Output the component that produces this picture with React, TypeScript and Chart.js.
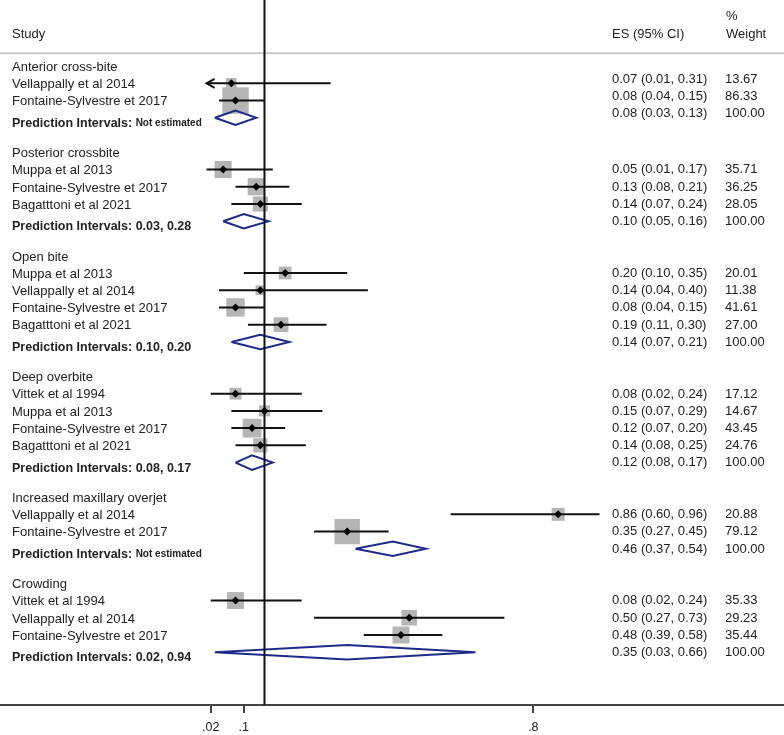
import React, { useEffect, useRef } from "react";
import { Chart, registerables } from "chart.js";

Chart.register(...registerables);

// ---------- data ----------
const groupNames = [
  "Anterior cross-bite",
  "Posterior crossbite",
  "Open bite",
  "Deep overbite",
  "Increased maxillary overjet",
  "Crowding",
];
const groupSizes = [2, 3, 4, 4, 2, 3];

const studyNames = [
  "Vellappally et al 2014",
  "Fontaine-Sylvestre et 2017",
  "Muppa et al 2013",
  "Fontaine-Sylvestre et 2017",
  "Bagatttoni et al 2021",
  "Muppa et al 2013",
  "Vellappally et al 2014",
  "Fontaine-Sylvestre et 2017",
  "Bagatttoni et al 2021",
  "Vittek et al 1994",
  "Muppa et al 2013",
  "Fontaine-Sylvestre et 2017",
  "Bagatttoni et al 2021",
  "Vellappally et al 2014",
  "Fontaine-Sylvestre et 2017",
  "Vittek et al 1994",
  "Vellappally et al 2014",
  "Fontaine-Sylvestre et 2017",
];
const studyEs = [0.07, 0.08, 0.05, 0.13, 0.14, 0.2, 0.14, 0.08, 0.19, 0.08, 0.15, 0.12, 0.14, 0.86, 0.35, 0.08, 0.5, 0.48];
const studyLo = [0.01, 0.04, 0.01, 0.08, 0.07, 0.1, 0.04, 0.04, 0.11, 0.02, 0.07, 0.07, 0.08, 0.6, 0.27, 0.02, 0.27, 0.39];
const studyHi = [0.31, 0.15, 0.17, 0.21, 0.24, 0.35, 0.4, 0.15, 0.3, 0.24, 0.29, 0.2, 0.25, 0.96, 0.45, 0.24, 0.73, 0.58];
const studyWeight = [13.67, 86.33, 35.71, 36.25, 28.05, 20.01, 11.38, 41.61, 27.0, 17.12, 14.67, 43.45, 24.76, 20.88, 79.12, 35.33, 29.23, 35.44];
const studyArrowLeft = [true, false, false, false, false, false, false, false, false, false, false, false, false, false, false, false, false, false];

const pooledEs = [0.08, 0.1, 0.14, 0.12, 0.46, 0.35];
const pooledLo = [0.03, 0.05, 0.07, 0.08, 0.37, 0.03];
const pooledHi = [0.13, 0.16, 0.21, 0.17, 0.54, 0.66];
const pooledWeight = ["100.00", "100.00", "100.00", "100.00", "100.00", "100.00"];
const predictionIntervals = ["Not estimated", "0.03, 0.28", "0.10, 0.20", "0.08, 0.17", "Not estimated", "0.02, 0.94"];

const axisTicks = [0.02, 0.1, 0.8];
const axisTickLabels = [".02", ".1", ".8"];
const referenceLine = 0.15;

// ---------- layout ----------
const W = 784;
const H = 735;
const X_MIN = -0.4894;
const X_MAX = 1.406;
const Y_MIN = -3.832;
const Y_MAX = 37.06;
const HEADER_ROW = -0.74;
const DIAMOND_HALF = 0.42;
const BOX_SCALE = 2.85;
const FONT = '"Liberation Sans", Arial, Helvetica, sans-serif';
const TEXT_COLOR = "#222";
const NAVY = "#1c2b8a";
const COL_STUDY = 12;
const COL_ES = 612;
const COL_WEIGHT = 725;

type RowInfo = { kind: "group" | "study" | "pooled"; idx: number; group: number; row: number };

function buildRows(): RowInfo[] {
  const rows: RowInfo[] = [];
  let k = 0;
  let s = 0;
  groupNames.forEach((_, gi) => {
    rows.push({ kind: "group", idx: gi, group: gi, row: k++ });
    for (let j = 0; j < groupSizes[gi]; j++) {
      rows.push({ kind: "study", idx: s++, group: gi, row: k++ });
    }
    rows.push({ kind: "pooled", idx: gi, group: gi, row: k++ });
    k++;
  });
  return rows;
}

const fmt = (v: number) => v.toFixed(2);

export default function App() {
  const ref = useRef<HTMLCanvasElement | null>(null);

  useEffect(() => {
    if (!ref.current) return;
    const rows = buildRows();
    const studyRows = rows.filter((r) => r.kind === "study");
    const pooledRows = rows.filter((r) => r.kind === "pooled");

    const markerData = studyRows.map((r) => ({ x: studyEs[r.idx], y: r.row }));
    const boxRadius = studyRows.map((r) => (BOX_SCALE * Math.sqrt(studyWeight[r.idx])) / Math.SQRT2);
    const ciData: any[] = [];
    studyRows.forEach((r) => {
      ciData.push({ x: studyLo[r.idx], y: r.row }, { x: studyHi[r.idx], y: r.row }, { x: studyHi[r.idx], y: null });
    });
    const diamondData: any[] = [];
    pooledRows.forEach((r) => {
      const g = r.idx;
      diamondData.push(
        { x: pooledLo[g], y: r.row },
        { x: pooledEs[g], y: r.row - DIAMOND_HALF },
        { x: pooledHi[g], y: r.row },
        { x: pooledEs[g], y: r.row + DIAMOND_HALF },
        { x: pooledLo[g], y: r.row },
        { x: pooledLo[g], y: null }
      );
    });

    const textPlugin = {
      id: "forestText",
      afterDraw(chart: any) {
        const ctx = chart.ctx as CanvasRenderingContext2D;
        const xs = chart.scales.x;
        const ys = chart.scales.y;
        ctx.save();
        ctx.fillStyle = TEXT_COLOR;
        ctx.textBaseline = "middle";
        ctx.textAlign = "left";
        const reg = `13px ${FONT}`;
        const bold = `bold 12.5px ${FONT}`;
        const boldSmall = `bold 10px ${FONT}`;

        ctx.font = reg;
        const headerY = ys.getPixelForValue(HEADER_ROW) - 19;
        ctx.fillText("Study", COL_STUDY, headerY);
        ctx.fillText("ES (95% CI)", COL_ES, headerY);
        ctx.fillText("Weight", COL_WEIGHT + 1, headerY);
        ctx.fillText("%", COL_WEIGHT + 1, headerY - 17.6);

        rows.forEach((r) => {
          const y = ys.getPixelForValue(r.row);
          const rShift = r.group === 0 ? -4.3 : 0.3;
          if (r.kind === "group") {
            ctx.font = reg;
            ctx.fillText(groupNames[r.idx], COL_STUDY, y + 1.5);
          } else if (r.kind === "study") {
            const i = r.idx;
            ctx.font = reg;
            ctx.fillText(studyNames[i], COL_STUDY, y + 1.2);
            ctx.fillText(`${fmt(studyEs[i])} (${fmt(studyLo[i])}, ${fmt(studyHi[i])})`, COL_ES, y + rShift);
            ctx.fillText(fmt(studyWeight[i]), COL_WEIGHT, y + rShift);
          } else {
            const g = r.idx;
            ctx.font = bold;
            const lead = "Prediction Intervals: ";
            ctx.fillText(lead, COL_STUDY, y + 5.5);
            const w = ctx.measureText(lead).width;
            const pi = predictionIntervals[g];
            ctx.font = pi === "Not estimated" ? boldSmall : bold;
            ctx.fillText(pi, COL_STUDY + w, y + 5.5);
            ctx.font = reg;
            ctx.fillText(`${fmt(pooledEs[g])} (${fmt(pooledLo[g])}, ${fmt(pooledHi[g])})`, COL_ES, y + rShift);
            ctx.fillText(pooledWeight[g], COL_WEIGHT, y + rShift);
          }
        });

        // arrows for clipped confidence intervals
        ctx.strokeStyle = "#111";
        ctx.lineWidth = 2;
        studyRows.forEach((r) => {
          if (!studyArrowLeft[r.idx]) return;
          const x = xs.getPixelForValue(studyLo[r.idx]);
          const y = ys.getPixelForValue(r.row);
          ctx.beginPath();
          ctx.moveTo(x + 8, y - 4.5);
          ctx.lineTo(x, y);
          ctx.lineTo(x + 8, y + 4.5);
          ctx.stroke();
        });
        ctx.restore();
      },
    };

    const chart = new Chart(ref.current, {
      type: "scatter",
      data: {
        datasets: [
          {
            type: "scatter",
            data: markerData,
            pointStyle: "rectRot",
            pointRadius: 4,
            backgroundColor: "#000",
            borderWidth: 0,
            order: 0,
          } as any,
          {
            type: "line",
            data: ciData,
            borderColor: "#111",
            borderWidth: 2,
            pointRadius: 0,
            spanGaps: false,
            tension: 0,
            order: 1,
          } as any,
          {
            type: "line",
            data: [
              { x: referenceLine, y: Y_MIN },
              { x: referenceLine, y: Y_MAX },
            ],
            borderColor: "#111",
            borderWidth: 2,
            pointRadius: 0,
            order: 2,
          } as any,
          {
            type: "line",
            data: diamondData,
            borderColor: NAVY,
            borderWidth: 2,
            pointRadius: 0,
            spanGaps: false,
            tension: 0,
            borderJoinStyle: "miter",
            order: 3,
          } as any,
          {
            type: "scatter",
            data: markerData,
            pointStyle: "rect",
            pointRadius: boxRadius,
            backgroundColor: "#b5b5b5",
            borderWidth: 0,
            order: 4,
          } as any,
          {
            type: "line",
            data: [
              { x: X_MIN, y: HEADER_ROW },
              { x: X_MAX, y: HEADER_ROW },
            ],
            borderColor: "#c8c8c8",
            borderWidth: 2,
            pointRadius: 0,
            order: 5,
          } as any,
        ],
      },
      options: {
        responsive: false,
        animation: false,
        events: [],
        layout: { autoPadding: false, padding: { left: 0, right: 0, top: 0, bottom: 1 } },
        plugins: { legend: { display: false }, tooltip: { enabled: false } },
        scales: {
          x: {
            type: "linear",
            position: "bottom",
            min: X_MIN,
            max: X_MAX,
            afterBuildTicks: (scale: any) => {
              scale.ticks = axisTicks.map((v) => ({ value: v }));
            },
            afterFit: (scale: any) => {
              scale.height = 29;
            },
            grid: { display: true, drawOnChartArea: false, drawTicks: true, tickLength: 8, color: "#444", lineWidth: 2 },
            border: { display: true, color: "#444", width: 2 },
            ticks: {
              autoSkip: false,
              maxRotation: 0,
              padding: 7.5,
              color: TEXT_COLOR,
              font: { family: FONT, size: 12.5 },
              callback: (v: any) => {
                const i = axisTicks.indexOf(Number(v));
                return i >= 0 ? axisTickLabels[i] : "";
              },
            },
          },
          y: {
            type: "linear",
            display: false,
            reverse: true,
            min: Y_MIN,
            max: Y_MAX,
          },
        },
      } as any,
      plugins: [textPlugin],
    });
    return () => chart.destroy();
  }, []);

  return (
    <div style={{ position: "absolute", left: 0, top: 0, width: W, height: H, background: "#fff" }}>
      <canvas ref={ref} width={W} height={H} style={{ width: W, height: H, display: "block" }} />
    </div>
  );
}
